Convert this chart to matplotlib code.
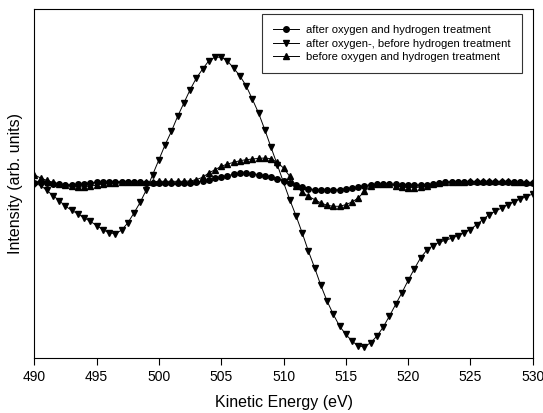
import numpy as np
import matplotlib
matplotlib.use("Agg")
import matplotlib.pyplot as plt

plt.rcParams['font.family'] = ['Liberation Sans', 'DejaVu Sans']

# kinetic energy axis, 0.5 eV steps
energy = np.arange(490, 530.01, 0.5)

# after oxygen and hydrogen treatment (circles)
after_both = [0, 2, 0, -2, -4, -5, -5, -4, -2, 0,
              2, 3, 4, 4, 4, 4, 3, 2, 1, 0,
              0, 0, 0, 0, 0, 1, 3, 6, 10, 14,
              18, 22, 26, 29, 30, 28, 25, 22, 18, 12,
              6, 0, -7, -13, -17, -20, -21, -21, -21, -20,
              -18, -15, -12, -8, -5, -4, -4, -3, -4, -5,
              -6, -6, -6, -5, -3, 0, 2, 3, 4, 4,
              4, 4, 4, 4, 4, 4, 4, 3, 2, 1,
              0]

# after oxygen-, before hydrogen treatment (down triangles)
after_oxygen = [-2, -7, -22, -38, -53, -70, -82, -93, -105, -115,
                -128, -140, -150, -152, -142, -120, -90, -58, -20, 25,
                70, 115, 155, 200, 240, 280, 315, 342, 367, 378,
                378, 367, 345, 322, 292, 252, 210, 160, 107, 55,
                2, -50, -98, -150, -205, -255, -308, -355, -395, -430,
                -455, -475, -490, -492, -480, -460, -433, -400, -365, -330,
                -293, -258, -225, -202, -188, -178, -172, -166, -158, -150,
                -140, -125, -110, -95, -85, -75, -65, -57, -48, -41,
                -33]

# before oxygen and hydrogen treatment (up triangles)
before_both = [25, 15, 8, 2, -3, -7, -10, -12, -12, -10,
               -6, -3, 0, 1, 2, 2, 3, 3, 3, 4,
               5, 5, 5, 5, 5, 6, 10, 17, 30, 40,
               50, 57, 62, 67, 70, 72, 74, 75, 73, 62,
               45, 20, -8, -28, -40, -50, -60, -67, -70, -70,
               -65, -57, -45, -25, -10, -3, -2, -4, -8, -12,
               -14, -14, -12, -8, -3, 1, 3, 4, 4, 4,
               5, 5, 5, 5, 5, 5, 5, 4, 3, 2,
               2]

labels = ["after oxygen and hydrogen treatment",
          "after oxygen-, before hydrogen treatment",
          "before oxygen and hydrogen treatment"]

fig = plt.figure(figsize=(5.43, 4.13), dpi=100)
ax = fig.add_axes([0.0632, 0.1339, 0.9178, 0.8436])

ax.plot(energy, after_both, color='black', lw=0.7, marker='o', ms=4.0, label=labels[0])
ax.plot(energy, after_oxygen, color='black', lw=0.7, marker='v', ms=4.6, label=labels[1])
ax.plot(energy, before_both, color='black', lw=0.7, marker='^', ms=4.6, label=labels[2])

ax.set_xlim(490, 530)
ax.set_ylim(-525, 522)
ax.set_xticks(np.arange(490, 531, 5))
ax.set_yticks([])
ax.tick_params(axis='x', direction='out', length=5, width=0.8, labelsize=10, pad=4)
for s in ax.spines.values():
    s.set_linewidth(0.8)

ax.set_xlabel("Kinetic Energy (eV)", fontsize=11.5, labelpad=8)
ax.set_ylabel("Intensity (arb. units)", fontsize=11.5, labelpad=8)

leg = ax.legend(loc='upper right', bbox_to_anchor=(0.978, 0.9865), borderaxespad=0,
                fontsize=8.1, frameon=True, fancybox=False, edgecolor='#333333',
                framealpha=1, handlelength=2.3, handletextpad=0.6,
                labelspacing=0.3, borderpad=1.0)
leg.get_frame().set_linewidth(0.8)

plt.savefig("out.png", dpi=100)
